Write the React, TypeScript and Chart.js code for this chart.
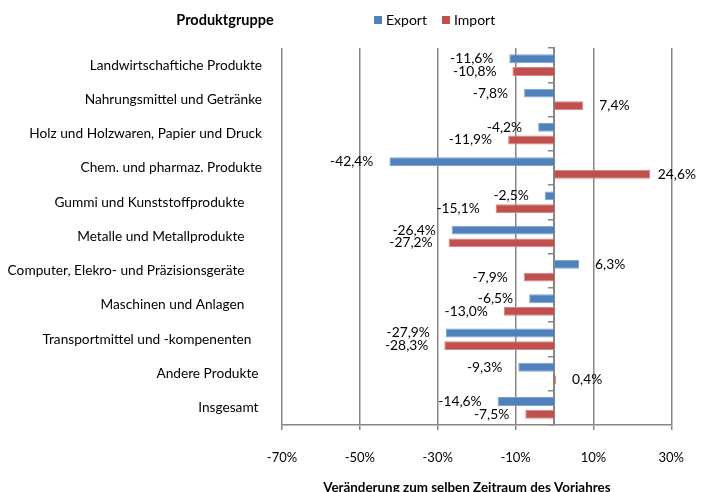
import React, { useEffect, useRef } from 'react';
import { Chart, registerables } from 'chart.js';

Chart.register(...registerables);

const categories = [
  'Landwirtschaftiche Produkte',
  'Nahrungsmittel und Getränke',
  'Holz und Holzwaren, Papier und Druck',
  'Chem. und pharmaz. Produkte',
  'Gummi und Kunststoffprodukte     ',
  'Metalle und Metallprodukte     ',
  'Computer, Elekro- und Präzisionsgeräte     ',
  'Maschinen und Anlagen     ',
  'Transportmittel und -kompenenten   ',
  'Andere Produkte ',
  'Insgesamt ',
];

const exportValues = [-11.6, -7.8, -4.2, -42.4, -2.5, -26.4, 6.3, -6.5, -27.9, -9.3, -14.6];
const importValues = [-10.8, 7.4, -11.9, 24.6, -15.1, -27.2, -7.9, -13.0, -28.3, 0.4, -7.5];

const xTickValues = [-70, -50, -30, -10, 10, 30];

const seriesNames = ['Export', 'Import'];
const categoryAxisTitle = 'Produktgruppe';
const valueAxisTitle = 'Veränderung zum selben Zeitraum des Vorjahres      ';

const FONT = 'Lato, "Open Sans", "DejaVu Sans", sans-serif';
const BLUE = '#4F81BD';
const RED = '#C0504D';
const GRID = '#868686';

const fmt = (v: number) => v.toFixed(1).replace('.', ',') + '%';

const barLabelPlugin = {
  id: 'barLabels',
  afterDatasetsDraw(chart: any) {
    const ctx = chart.ctx;
    ctx.save();
    ctx.font = `13.8px ${FONT}`;
    ctx.fillStyle = '#000';
    ctx.textBaseline = 'middle';
    ctx.textAlign = 'left';
    chart.data.datasets.forEach((ds: any, di: number) => {
      const meta = chart.getDatasetMeta(di);
      meta.data.forEach((bar: any, i: number) => {
        const v = ds.data[i] as number;
        const txt = fmt(v);
        const w = ctx.measureText(txt).width;
        let x: number;
        if (v < 0) {
          x = bar.x - 16 - w;
        } else {
          x = bar.x + 16;
          if (x + w > chart.width - 8) x = chart.width - 8 - w;
        }
        ctx.fillText(txt, x, bar.y);
      });
    });
    ctx.restore();
  },
};

const headerPlugin = {
  id: 'header',
  afterDraw(chart: any) {
    const ctx = chart.ctx;
    ctx.save();
    ctx.textBaseline = 'middle';
    ctx.fillStyle = '#000';
    ctx.font = `bold 14.5px ${FONT}`;
    ctx.textAlign = 'center';
    ctx.fillText(categoryAxisTitle, 225, 20);
    ctx.font = `14px ${FONT}`;
    ctx.textAlign = 'left';
    let x = 374;
    chart.data.datasets.forEach((ds: any) => {
      ctx.fillStyle = ds.backgroundColor;
      ctx.fillRect(x, 16, 8, 8);
      ctx.fillStyle = '#000';
      ctx.fillText(ds.label, x + 12, 20);
      x += 12 + ctx.measureText(ds.label).width + 15;
    });
    ctx.restore();
  },
};

export default function App() {
  const ref = useRef<HTMLCanvasElement | null>(null);

  useEffect(() => {
    document.body.style.margin = '0';
    const canvas = ref.current;
    if (!canvas) return;
    const chart = new Chart(canvas, {
      type: 'bar',
      data: {
        labels: categories,
        datasets: [
          {
            label: seriesNames[0],
            data: exportValues,
            backgroundColor: BLUE,
            borderColor: '#7fa3d1',
            borderWidth: 1,
            yAxisID: 'y',
            categoryPercentage: 0.74,
            barPercentage: 0.7,
          },
          {
            label: seriesNames[1],
            data: importValues,
            backgroundColor: RED,
            borderColor: '#d58482',
            borderWidth: 1,
            yAxisID: 'y',
            categoryPercentage: 0.74,
            barPercentage: 0.7,
          },
        ],
      },
      options: {
        indexAxis: 'y',
        responsive: false,
        animation: false,
        layout: { padding: { left: 0, right: 31, top: 48, bottom: 0 } },
        plugins: {
          legend: { display: false },
          title: { display: false },
          tooltip: { enabled: false },
        },
        scales: {
          x: {
            type: 'linear',
            min: -70,
            max: 30,
            afterBuildTicks: (s: any) => {
              s.ticks = xTickValues.map((v) => ({ value: v }));
            },
            grid: { color: GRID, lineWidth: 1.5, tickLength: 5, drawTicks: true },
            border: { display: true, color: GRID, width: 1.5 },
            ticks: {
              callback: (v: any) => v + '%',
              font: { family: FONT, size: 13 },
              color: '#000',
              padding: 20,
              maxRotation: 0,
            },
            title: {
              display: true,
              text: valueAxisTitle,
              font: { family: FONT, size: 13.4, weight: 'bold' },
              color: '#000',
              padding: { top: 0, bottom: -4 },
            },
            afterFit: (s: any) => {
              s.height = 67;
            },
          },
          y: {
            type: 'category',
            position: 'left',
            grid: { display: false, drawTicks: false, tickLength: 0 },
            border: { display: false },
            ticks: {
              font: { family: FONT, size: 13.7 },
              color: '#000',
              padding: 20,
              autoSkip: false,
            },
            afterFit: (s: any) => {
              s.width = 282;
            },
          },
          y2: {
            type: 'category',
            position: { x: 0 } as any,
            offset: true,
            grid: {
              offset: true,
              drawOnChartArea: false,
              drawTicks: true,
              tickLength: 5,
              color: GRID,
              lineWidth: 1.5,
            },
            border: { display: true, color: GRID, width: 2 },
            ticks: { display: false, autoSkip: false },
          },
        },
      } as any,
      plugins: [barLabelPlugin, headerPlugin],
    });
    return () => chart.destroy();
  }, []);

  return (
    <div style={{ width: 704, height: 492 }}>
      <canvas ref={ref} width={704} height={492} />
    </div>
  );
}
